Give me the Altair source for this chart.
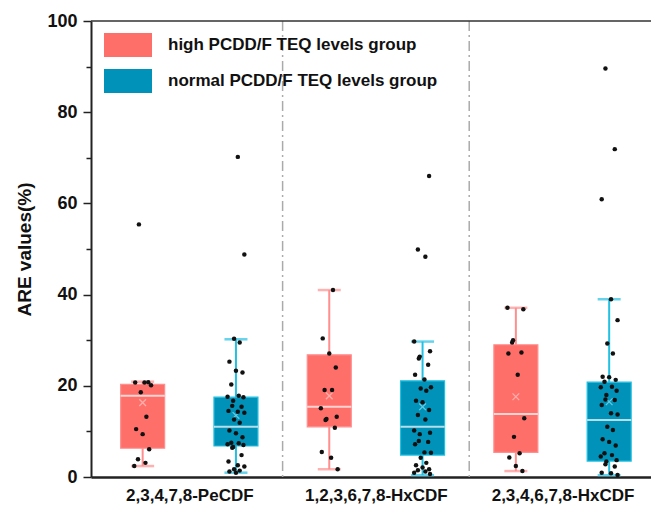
import altair as alt
import pandas as pd

# ---------------- data ----------------
categories = ["2,3,4,7,8-PeCDF", "1,2,3,6,7,8-HxCDF", "2,3,4,6,7,8-HxCDF"]
groups = ["high PCDD/F TEQ levels group", "normal PCDD/F TEQ levels group"]

# one entry per box: (category index, group index)
box_cat = [0, 0, 1, 1, 2, 2]
box_grp = [0, 1, 0, 1, 0, 1]
whisk_lo = [2.4, 0.95, 1.7, 0.4, 1.3, 0.4]
q1 = [6.3, 6.8, 11.0, 4.8, 5.4, 3.5]
median = [17.8, 11.0, 15.4, 11.0, 13.8, 12.5]
q3 = [20.3, 17.5, 26.8, 21.1, 29.0, 20.8]
whisk_hi = [20.9, 30.2, 41.0, 29.7, 37.1, 39.0]
mean = [16.3, 13.5, 17.8, 15.4, 17.6, 16.5]

pts_high_pecdf = [55.4, 20.8, 20.7, 20.7, 20.1, 18.6, 13.2, 10.5, 9.4, 6.1, 3.9, 3.1, 2.4]
pts_norm_pecdf = [70.2, 48.8, 30.3, 29.5, 25.3, 23.3, 22.9, 20.3, 17.8, 17.6, 17.5, 16.7,
                  15.6, 15.4, 14.5, 14.3, 14.1, 12.6, 11.9, 10.2, 9.6, 8.7, 7.5, 7.4, 7.2,
                  7.0, 6.6, 6.4, 4.8, 3.4, 2.6, 2.3, 1.7, 1.4, 1.2, 0.95]
pts_high_hx1 = [41.0, 30.4, 27.1, 24.0, 19.1, 19.1, 15.1, 13.2, 12.7, 12.5, 10.8, 5.5, 4.2, 1.7]
pts_norm_hx1 = [66.0, 49.9, 48.3, 29.7, 27.6, 26.4, 26.0, 24.6, 22.4, 21.4, 19.7, 19.4, 18.9,
                16.7, 16.4, 14.7, 13.6, 12.6, 10.2, 9.7, 9.4, 7.9, 7.7, 7.2, 5.4, 5.3, 4.2,
                3.1, 2.6, 2.1, 1.7, 1.5, 1.2, 0.95, 0.66]
pts_high_hx2 = [37.1, 36.8, 30.0, 29.5, 27.3, 27.1, 22.4, 12.9, 8.8, 5.2, 4.3, 2.4, 1.3]
pts_norm_hx2 = [89.6, 71.9, 60.9, 39.0, 34.4, 29.3, 27.1, 22.0, 21.9, 21.3, 20.9, 19.8, 19.7,
                18.9, 18.0, 17.0, 16.9, 15.8, 14.0, 13.7, 11.0, 10.3, 8.3, 7.7, 6.9, 5.2,
                4.8, 4.5, 3.7, 3.4, 2.8, 2.3, 0.95, 0.8, 0.44]
box_points = [pts_high_pecdf, pts_norm_pecdf, pts_high_hx1, pts_norm_hx1, pts_high_hx2, pts_norm_hx2]

# ---------------- styling ----------------
FILL = ["#FF6F6A", "#0092B8"]
LINE = ["#FF8E8E", "#22C0E2"]
MEANC = ["#FFC9C5", "#8FE3F2"]
GROUP_OFFSET = [0.25, 0.75]
JITTER = [-0.02, 0.03, -0.04, 0.01, 0.045, -0.01, 0.02, -0.035, 0.0, 0.035, -0.025, 0.015, -0.045, 0.04, -0.015]
FONT = "Liberation Sans"
WIDTH, HEIGHT = 560, 456
CAT_PX = 190
XMAX = WIDTH / CAT_PX

boxes = pd.DataFrame({
    "pos": [c + GROUP_OFFSET[g] for c, g in zip(box_cat, box_grp)],
    "group": [groups[g] for g in box_grp],
    "linec": [LINE[g] for g in box_grp],
    "meanc": [MEANC[g] for g in box_grp],
    "lo": whisk_lo, "q1": q1, "med": median, "q3": q3, "hi": whisk_hi, "mean": mean,
})

rows = []
for i, vals in enumerate(box_points):
    base = box_cat[i] + GROUP_OFFSET[box_grp[i]]
    for j, v in enumerate(vals):
        rows.append({"pos": base + JITTER[(j + 3 * i) % len(JITTER)], "value": v})
points = pd.DataFrame(rows)

seps = pd.DataFrame({"sep": [1, 2]})

xscale = alt.Scale(domain=[0, XMAX], nice=False, zero=False)
yscale = alt.Scale(domain=[0, 100], nice=False)

label_expr = "[" + ",".join("'" + c + "'" for c in categories) + "][floor(datum.value)]"

x_axis = alt.Axis(values=[0.5, 1.5, 2.5], labelExpr=label_expr, title=None, ticks=False,
                  grid=False, domainColor="#222222", domainWidth=2.5, labelFont=FONT,
                  labelFontSize=17, labelFontWeight="bold", labelColor="#111111",
                  labelPadding=10, labelFlush=False, labelOverlap=False)
y_axis = alt.Axis(values=list(range(0, 101, 10)),
                  labelExpr="datum.value % 20 == 0 ? datum.label : ''",
                  tickSize={"condition": {"test": "datum.value % 20 != 0", "value": 5}, "value": 8},
                  tickColor="#222222", tickWidth=1.5, domainColor="#222222", domainWidth=2,
                  labelFont=FONT, labelFontSize=18, labelFontWeight="bold", labelColor="#111111",
                  labelPadding=6, title="ARE values(%)", titleFont=FONT, titleFontSize=19,
                  titleFontWeight="bold", titleColor="#111111", titlePadding=12, grid=False)

X = alt.X("pos:Q", scale=xscale, axis=x_axis)

sep_layer = alt.Chart(seps).mark_rule(color="#AAAAAA", strokeWidth=1.5, strokeDash=[10, 4, 2, 4]).encode(
    x=alt.X("sep:Q", scale=xscale, axis=x_axis)
)
top_layer = alt.Chart(seps).mark_rule(color="#333333", strokeWidth=1.2).encode(
    y=alt.YDatum(100, scale=yscale, axis=y_axis)
)
base = alt.Chart(boxes)
whisk = base.mark_rule(strokeWidth=2).encode(
    x=X, y=alt.Y("lo:Q", scale=yscale, axis=y_axis), y2="hi:Q",
    color=alt.Color("linec:N", scale=None)
)
cap_lo = base.mark_tick(orient="horizontal", size=23, thickness=2.5).encode(
    x=X, y=alt.Y("lo:Q", scale=yscale, axis=y_axis), color=alt.Color("linec:N", scale=None)
)
cap_hi = base.mark_tick(orient="horizontal", size=23, thickness=2.5).encode(
    x=X, y=alt.Y("hi:Q", scale=yscale, axis=y_axis), color=alt.Color("linec:N", scale=None)
)
box = base.mark_bar(size=44, orient="vertical", strokeWidth=1.2).encode(
    x=X, y=alt.Y("q1:Q", scale=yscale, axis=y_axis), y2="q3:Q",
    fill=alt.Fill("group:N", scale=alt.Scale(domain=groups, range=FILL),
                  legend=alt.Legend(title=None, orient="none", legendX=13, legendY=0,
                                    symbolType="M-1,-0.5L1,-0.5L1,0.5L-1,0.5Z", symbolSize=2304,
                                    symbolStrokeColor="#FFFFFF", symbolStrokeWidth=0,
                                    labelFont=FONT, labelFontSize=17, labelFontWeight="bold",
                                    labelColor="#111111", labelOffset=16, rowPadding=-24,
                                    padding=0, labelLimit=400)),
    stroke=alt.Stroke("linec:N", scale=None)
)
med = base.mark_tick(orient="horizontal", size=44, thickness=2, color="white").encode(
    x=X, y=alt.Y("med:Q", scale=yscale, axis=y_axis)
)
mean_l = base.mark_point(shape="M-1,-1L1,1M1,-1L-1,1", size=45, strokeWidth=1.3, filled=False).encode(
    x=X, y=alt.Y("mean:Q", scale=yscale, axis=y_axis), color=alt.Color("meanc:N", scale=None)
)
pts = alt.Chart(points).mark_circle(size=20, color="#111111", opacity=1).encode(
    x=X, y=alt.Y("value:Q", scale=yscale, axis=y_axis)
)

chart = alt.layer(sep_layer, top_layer, whisk, cap_lo, cap_hi, box, med, mean_l, pts).properties(
    width=WIDTH, height=HEIGHT,
    padding={"left": 83, "top": 13, "right": 0, "bottom": 30},
    autosize=alt.AutoSizeParams(type="none"),
).configure_view(stroke=None)

chart.save("out.html", embed_options={"renderer": "svg", "actions": False})
